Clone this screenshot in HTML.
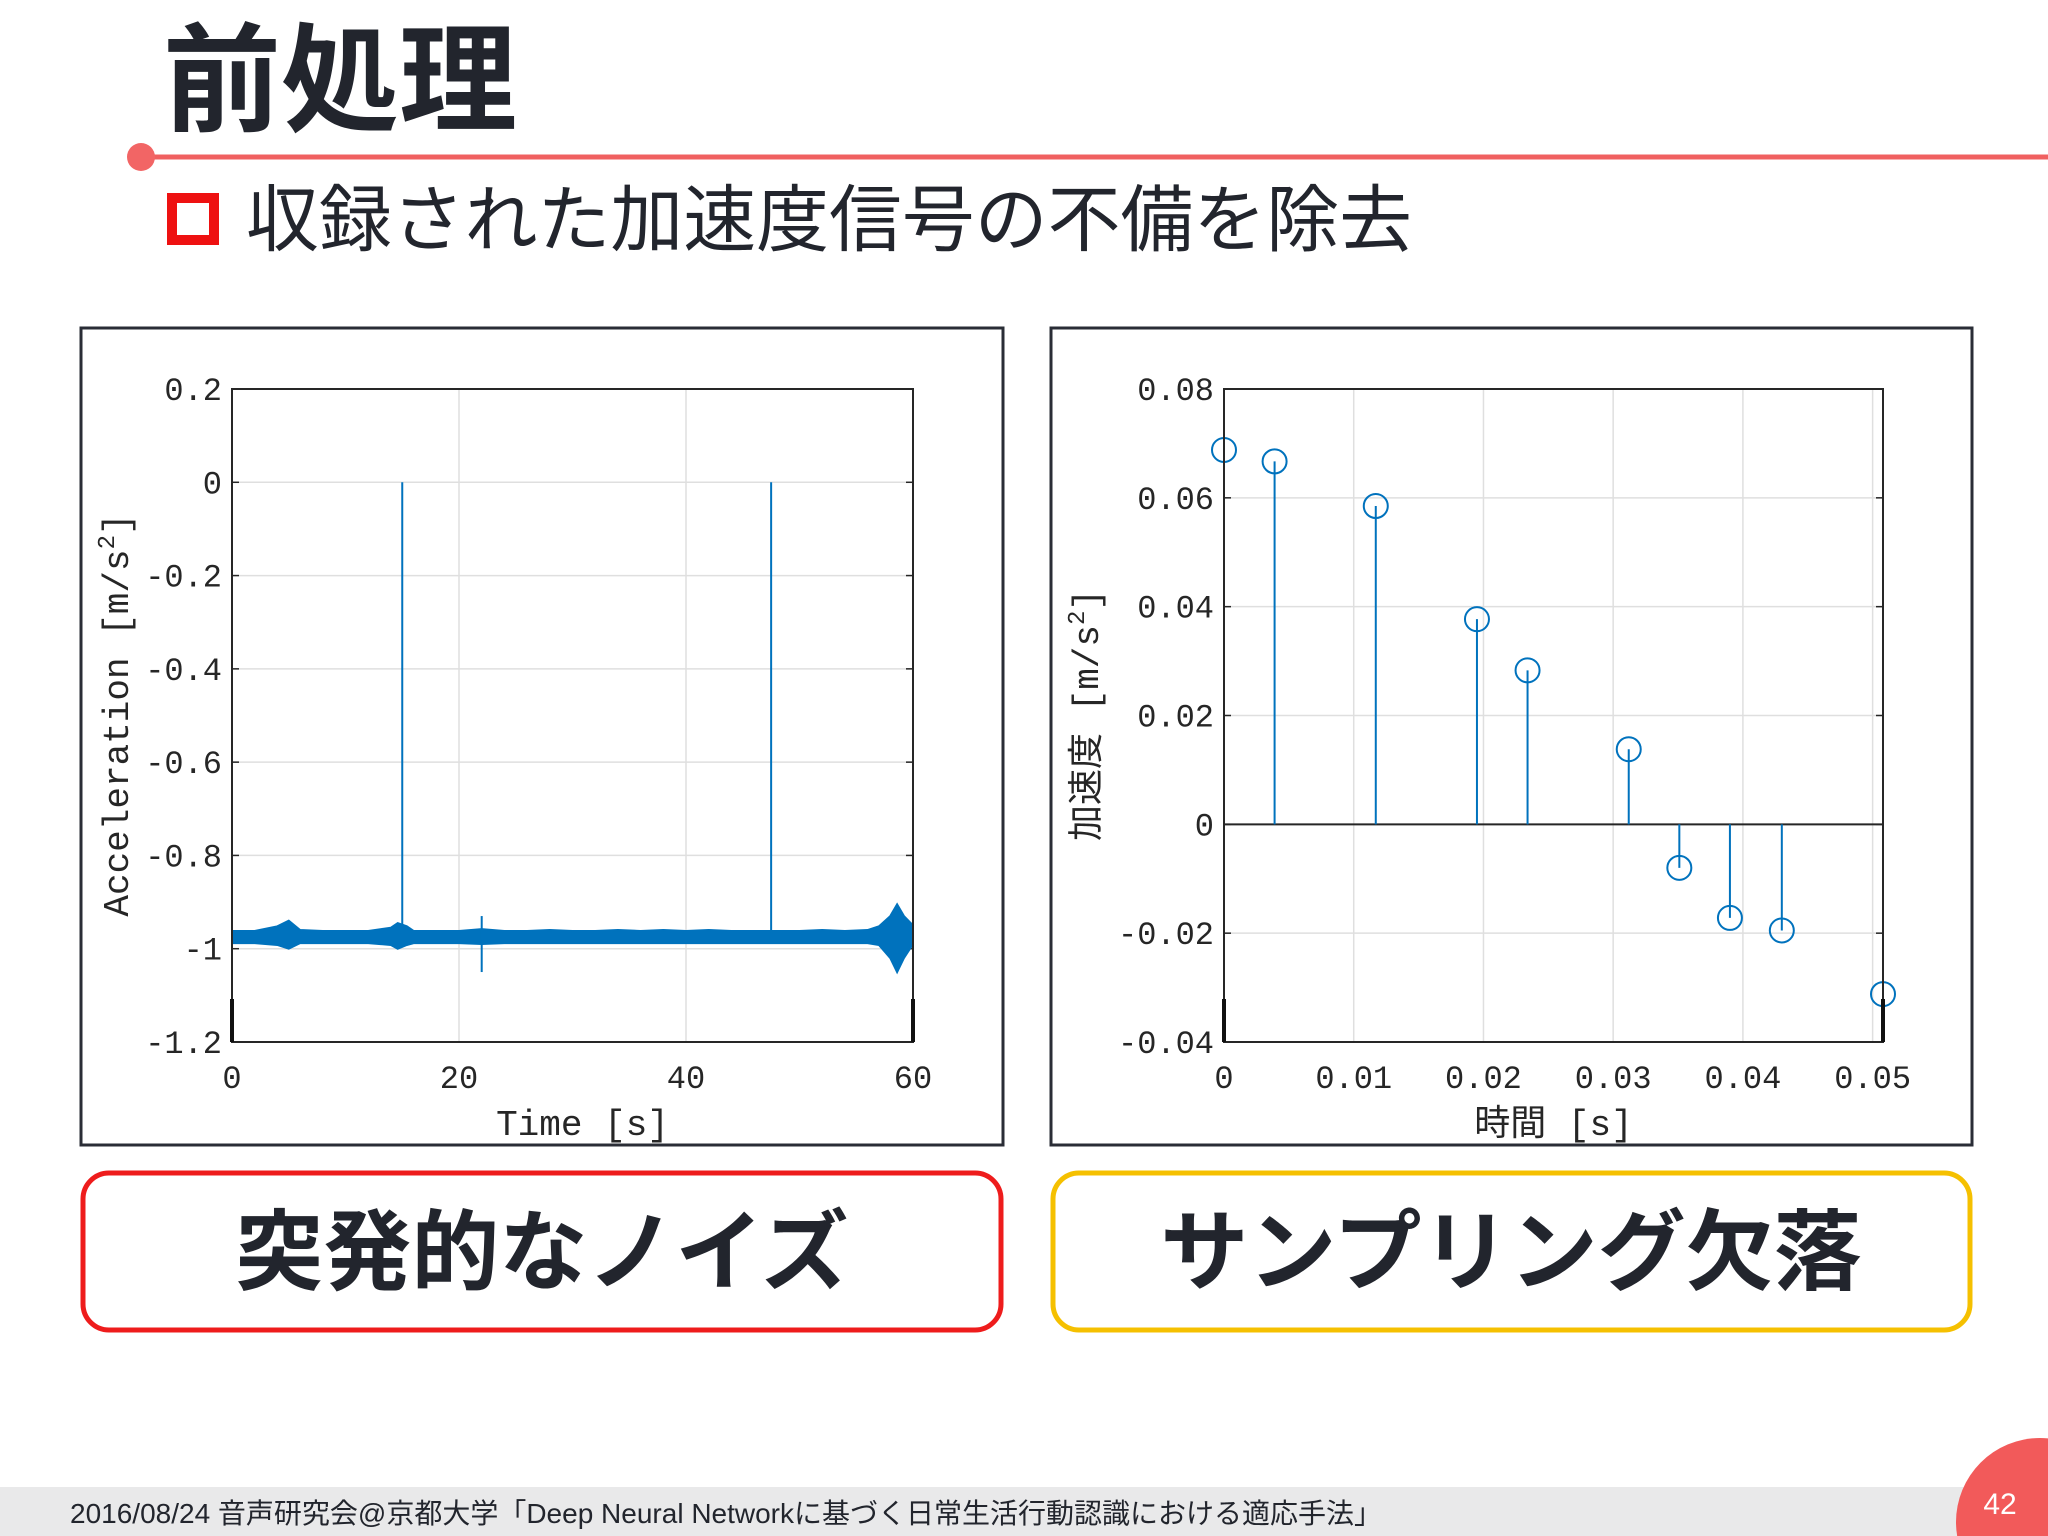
<!DOCTYPE html>
<html><head><meta charset="utf-8"><style>
html,body{margin:0;padding:0;background:#fff}
svg{display:block}
.t{font-family:"Liberation Mono","DejaVu Sans Mono",monospace;fill:#262626;font-size:32px}
.a{font-family:"Liberation Mono","DejaVu Sans Mono",monospace;fill:#262626;font-size:36px}
.j{font-family:"Liberation Sans","Noto Sans CJK JP",sans-serif}
</style></head><body>
<svg id="s" xmlns="http://www.w3.org/2000/svg" width="2048" height="1536" viewBox="0 0 2048 1536">
<text x="163" y="122" class="j" font-size="118" font-weight="bold" fill="#22252d">前処理</text>
<line x1="141" y1="157" x2="2048" y2="157" stroke="#f06060" stroke-width="5"/>
<circle cx="141" cy="157" r="14" fill="#f26565"/>
<rect x="172" y="198" width="42" height="42" fill="none" stroke="#ee1111" stroke-width="10"/>
<text x="246" y="245" class="j" font-size="73" textLength="1166" lengthAdjust="spacingAndGlyphs" fill="#22252d">収録された加速度信号の不備を除去</text>

<rect x="81" y="328" width="922" height="817" fill="#fff" stroke="#2a2d36" stroke-width="3"/>
<rect x="1051" y="328" width="921" height="817" fill="#fff" stroke="#2a2d36" stroke-width="3"/>
<g id="left"></g>
<g id="right"></g>

<rect x="83" y="1173" width="918" height="157" rx="26" fill="#fff" stroke="#ee1c1c" stroke-width="5"/>
<text x="542" y="1283" text-anchor="middle" class="j" font-size="88" font-weight="bold" fill="#22252d">突発的なノイズ</text>
<rect x="1053" y="1173" width="917" height="157" rx="26" fill="#fff" stroke="#f5c000" stroke-width="5"/>
<text x="1511" y="1283" text-anchor="middle" class="j" font-size="88" font-weight="bold" fill="#22252d">サンプリング欠落</text>

<rect x="0" y="1487" width="2048" height="49" fill="#e9e9ea"/>
<text x="70" y="1523" class="j" font-size="28" fill="#22252d">2016/08/24  音声研究会@京都大学「Deep Neural Networkに基づく日常生活行動認識における適応手法」</text>
<circle cx="2040" cy="1522" r="84" fill="#f25a5a"/>
<text x="2000" y="1514" text-anchor="middle" class="j" font-size="30" fill="#fff">42</text>
</svg>
<script>
// Left chart data
const lT=[0,2,4,5,6,8,10,12,14,14.6,15.4,16,18,20,22,24,26,28,30,32,34,36,38,40,42,44,46,48,50,52,54,56,57,58,58.6,59.2,60];
const lHi=[-0.962,-0.962,-0.952,-0.94,-0.96,-0.962,-0.962,-0.962,-0.955,-0.945,-0.952,-0.962,-0.962,-0.962,-0.958,-0.962,-0.962,-0.96,-0.962,-0.962,-0.96,-0.962,-0.96,-0.962,-0.96,-0.962,-0.962,-0.962,-0.962,-0.96,-0.962,-0.96,-0.952,-0.93,-0.905,-0.93,-0.95];
const lLo=[-0.988,-0.988,-0.992,-1.0,-0.988,-0.988,-0.988,-0.988,-0.992,-1.0,-0.992,-0.988,-0.988,-0.988,-0.99,-0.988,-0.988,-0.988,-0.988,-0.988,-0.988,-0.988,-0.988,-0.988,-0.988,-0.988,-0.988,-0.988,-0.988,-0.988,-0.988,-0.988,-0.992,-1.02,-1.05,-1.02,-0.99];
const spikeT=[15,47.5,22];
const spikeTop=[0,0,-0.93];
const spikeBot=[-0.97,-0.97,-1.05];
const lXTicks=[0,20,40,60];
const lYTicks=[0.2,0,-0.2,-0.4,-0.6,-0.8,-1,-1.2];
const lYLabels=["0.2","0","-0.2","-0.4","-0.6","-0.8","-1","-1.2"];
// Right chart data
const rT=[0,0.0039,0.0117,0.0195,0.0234,0.0312,0.0351,0.039,0.043,0.0508];
const rV=[0.0688,0.0667,0.0585,0.0377,0.0283,0.0138,-0.008,-0.0172,-0.0195,-0.0312];
const rXTicks=[0,0.01,0.02,0.03,0.04,0.05];
const rXLabels=["0","0.01","0.02","0.03","0.04","0.05"];
const rYTicks=[0.08,0.06,0.04,0.02,0,-0.02,-0.04];
const rYLabels=["0.08","0.06","0.04","0.02","0","-0.02","-0.04"];

const NS="http://www.w3.org/2000/svg";
function mk(p,tag,a){const e=document.createElementNS(NS,tag);for(const k in a)e.setAttribute(k,a[k]);p.appendChild(e);return e;}
const blue="#0072bd";

function axes(g,L,R,T,B,xs,ys,xt,xl,yt,yl,prefix){
  mk(g,'rect',{x:L,y:T,width:R-L,height:B-T,fill:'#fff'});
  xt.forEach((v,i)=>{const x=xs(v);
    const gl=mk(g,'line',{x1:x,y1:T,x2:x,y2:B,stroke:'#dfdfdf','stroke-width':1.5});
    
    
    const tx=mk(g,'text',{x:x,y:B+46,'text-anchor':'middle',class:'t'});tx.textContent=xl[i];
    
    
  });
  yt.forEach((v,i)=>{const y=ys(v);
    const gl=mk(g,'line',{x1:L,y1:y,x2:R,y2:y,stroke:'#dfdfdf','stroke-width':1.5});
    
    
    mk(g,'line',{x1:L,y1:y,x2:L+7,y2:y,stroke:'#262626','stroke-width':1.5});
    mk(g,'line',{x1:R,y1:y,x2:R-7,y2:y,stroke:'#262626','stroke-width':1.5});
    const tx=mk(g,'text',{x:L-10,y:y+11,'text-anchor':'end',class:'t'});tx.textContent=yl[i];
    
    
  });
}
// LEFT
(function(){
  const g=document.getElementById('left');
  const L=232,R=913,T=389,B=1042;
  const xs=v=>L+(v-0)/60*(R-L), ys=v=>T+(0.2-v)/1.4*(B-T);
  axes(g,L,R,T,B,xs,ys,lXTicks,lXTicks.map(String),lYTicks,lYLabels,'left');
  let pts=lT.map((t,i)=>xs(t)+','+ys(lHi[i])).concat(lT.slice().reverse().map((t,j)=>{const i=lT.length-1-j;return xs(t)+','+ys(lLo[i]);}));
  const band=mk(g,'polygon',{points:pts.join(' '),fill:blue,stroke:blue,'stroke-width':2});
  
  
  spikeT.forEach((t,i)=>{
    const s=mk(g,'line',{x1:xs(t),y1:ys(spikeTop[i]),x2:xs(t),y2:ys(spikeBot[i]),stroke:blue,'stroke-width':2});
    
    
  });
  mk(g,'rect',{x:L,y:T,width:R-L,height:B-T,fill:'none',stroke:'#262626','stroke-width':2});
  mk(g,'line',{x1:L,y1:B-43,x2:L,y2:B,stroke:'#111','stroke-width':4});
  mk(g,'line',{x1:R,y1:B-43,x2:R,y2:B,stroke:'#111','stroke-width':4});
  const xl=mk(g,'text',{x:(L+R)/2+10,y:1135,'text-anchor':'middle',class:'a'});xl.textContent='Time [s]';
  
  
  const yl=mk(g,'text',{x:0,y:0,'text-anchor':'middle',class:'a',transform:'translate(128,715) rotate(-90)'});
  yl.innerHTML='Acceleration [m/s<tspan dy="-14" font-size="24">2</tspan><tspan dy="14">]</tspan>';
  
  
})();
// RIGHT
(function(){
  const g=document.getElementById('right');
  const L=1224,R=1883,T=389,B=1042;
  const xs=v=>L+v/0.0508*(R-L), ys=v=>T+(0.08-v)/0.12*(B-T);
  axes(g,L,R,T,B,xs,ys,rXTicks,rXLabels,rYTicks,rYLabels,'right');
  mk(g,'line',{x1:L,y1:ys(0),x2:R,y2:ys(0),stroke:'#262626','stroke-width':2});
  rT.forEach((t,i)=>{
    const x=xs(t),y=ys(rV[i]);
    const s=mk(g,'line',{x1:x,y1:ys(0),x2:x,y2:y,stroke:blue,'stroke-width':2});
    
    
    const c=mk(g,'circle',{cx:x,cy:y,r:12,fill:'none',stroke:blue,'stroke-width':2});
    
    
  });
  mk(g,'rect',{x:L,y:T,width:R-L,height:B-T,fill:'none',stroke:'#262626','stroke-width':2});
  mk(g,'line',{x1:L,y1:B-43,x2:L,y2:B,stroke:'#111','stroke-width':4});
  mk(g,'line',{x1:R,y1:B-43,x2:R,y2:B,stroke:'#111','stroke-width':4});
  const xl=mk(g,'text',{x:(L+R)/2,y:1135,'text-anchor':'middle',class:'a'});
  xl.innerHTML='<tspan font-family="Noto Sans CJK JP,sans-serif">時間</tspan> [s]';
  
  
  const yl=mk(g,'text',{x:0,y:0,'text-anchor':'middle',class:'a',transform:'translate(1098,715) rotate(-90)'});
  yl.innerHTML='<tspan font-family="Noto Sans CJK JP,sans-serif">加速度</tspan> [m/s<tspan dy="-14" font-size="24">2</tspan><tspan dy="14">]</tspan>';
  
  
})();
</script>
</body></html>
